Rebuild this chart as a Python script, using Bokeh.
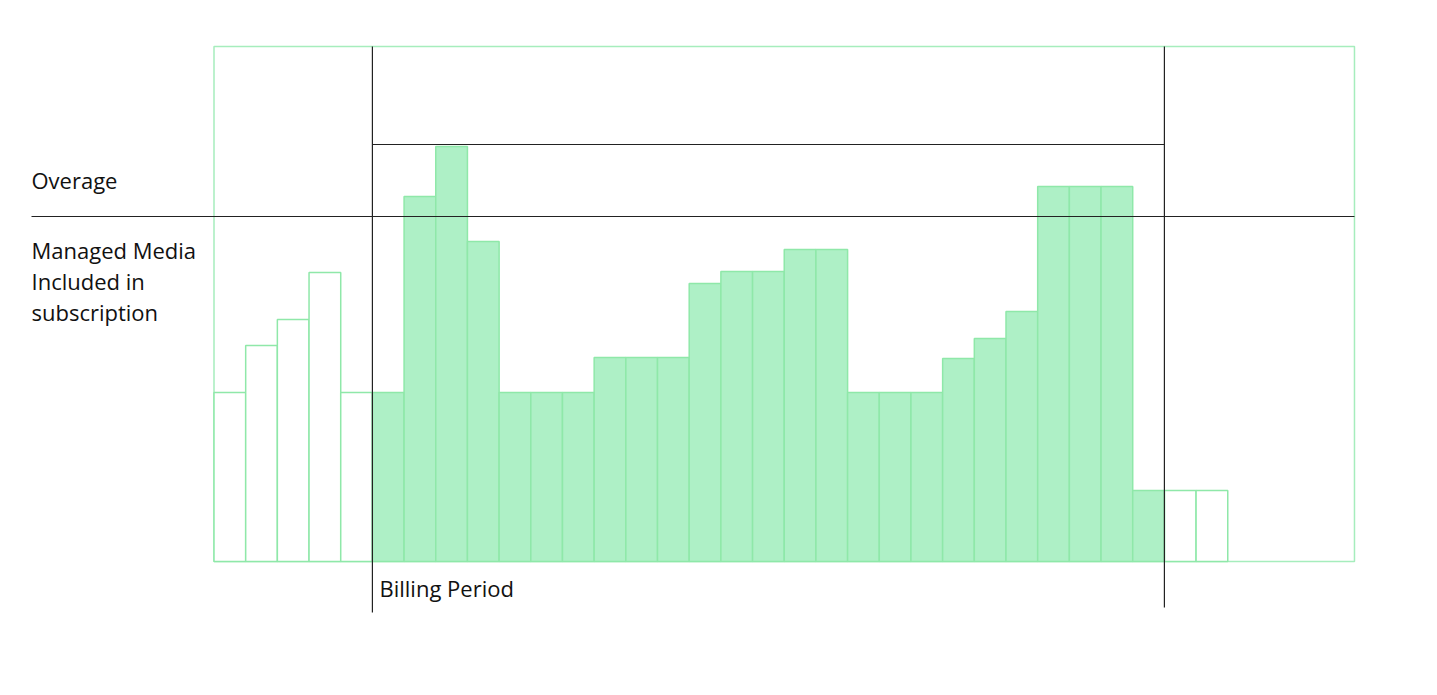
from bokeh.plotting import figure
from bokeh.models import Range1d, ColumnDataSource
from bokeh.core.properties import value
from bokeh.embed import file_html
from bokeh.resources import INLINE

# ---- data ----
slots = list(range(32))
usage = [169, 216, 242, 289, 169,
         169, 365, 415, 320, 169, 169, 169, 204, 204, 204, 278, 290, 290,
         312, 312, 169, 169, 169, 203, 223, 250, 375, 375, 375, 71,
         71, 71]
billing_start = 5
billing_end = 30
n_slots = 36
included_limit = 345
overage_cap = 417
frame_top = 515

labels_left = ["Overage", "Managed Media", "Included in", "subscription"]
label_billing = "Billing Period"

# ---- figure ----
slot_px = 31.68
LEFT = 213.5
W, H = 1420, 670
x0 = -LEFT / slot_px
y0 = 561 - H
p = figure(width=W, height=H, output_backend="svg", toolbar_location=None,
           x_range=Range1d(x0, x0 + W / slot_px), y_range=Range1d(y0, y0 + H),
           x_axis_location=None, y_axis_location=None, min_border=0,
           outline_line_color=None, background_fill_color="white")
p.xgrid.visible = False
p.ygrid.visible = False

GREEN_FILL = "#aef0c6"
GREEN_LINE = "#8fe8a9"

# frame
p.quad(left=[0], right=[n_slots], bottom=[0], top=[frame_top],
       fill_color=None, line_color="#a6edbd", line_width=1.5)

inside = [billing_start <= s < billing_end for s in slots]
src_in = ColumnDataSource(dict(x=[s + 0.5 for s, f in zip(slots, inside) if f],
                               top=[u for u, f in zip(usage, inside) if f]))
src_out = ColumnDataSource(dict(x=[s + 0.5 for s, f in zip(slots, inside) if not f],
                                top=[u for u, f in zip(usage, inside) if not f]))

p.vbar(x="x", top="top", bottom=0, width=1, source=src_out,
       fill_color="white", line_color=GREEN_LINE, line_width=1.5)
p.vbar(x="x", top="top", bottom=0, width=1, source=src_in,
       fill_color=GREEN_FILL, line_color=GREEN_LINE, line_width=1.5)

# reference lines
xl = (31 - LEFT) / slot_px
p.segment(x0=[xl, billing_start, billing_start, billing_end],
          y0=[included_limit, overage_cap, frame_top, frame_top],
          x1=[n_slots, billing_end, billing_start, billing_end],
          y1=[included_limit, overage_cap, -51, -46],
          line_color="#222222", line_width=1.2)

# texts
tx = (31 - LEFT) / slot_px
p.text(x=[tx, tx, tx, tx], y=[382, 312, 280.5, 249.5], text=labels_left,
       text_font=value("Open Sans"), text_font_size="22px",
       text_color="#111111", text_baseline="alphabetic", text_align="left")
p.text(x=[(379 - LEFT) / slot_px], y=[-26], text=[label_billing],
       text_font=value("Open Sans"), text_font_size="22px",
       text_color="#111111", text_baseline="alphabetic", text_align="left")

open("out.html", "w").write(file_html(p, INLINE))
